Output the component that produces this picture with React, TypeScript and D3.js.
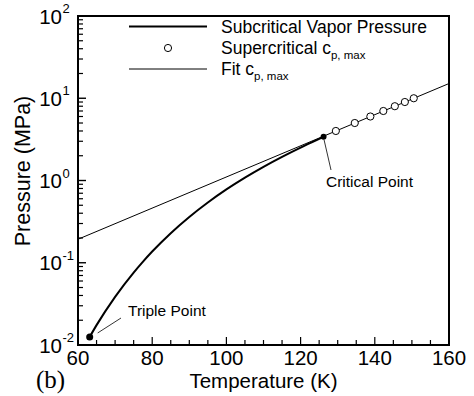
import React from 'react'
import * as d3 from 'd3'

// saturation curve, triple point -> critical point
const vaporT = [63.15, 65, 70, 75, 77.35, 80, 85, 90, 95, 100, 105, 110, 115, 120, 125, 126.19]
const vaporP = [0.01252, 0.01744, 0.03855, 0.07606, 0.1013, 0.137, 0.229, 0.3605, 0.5406, 0.7785, 1.0833, 1.4658, 1.9375, 2.511, 3.2028, 3.3958]
// supercritical cp max points
const cpT = [129.5, 134.6, 138.8, 142.3, 145.4, 148.1, 150.5]
const cpP = [4, 5, 6, 7, 8, 9, 10]
// fitted line (end points)
const fitT = [60, 160]
const fitP = [0.193, 15.1]

const xTicks = [60, 80, 100, 120, 140, 160]
const yExps = [-2, -1, 0, 1, 2]
const legendLabels = ['Subcritical Vapor Pressure', 'Supercritical c', 'Fit c']

const W = 474
const H = 396
const m = { l: 78, r: 25, t: 16, b: 51 }

export default function App() {
  const x = d3.scaleLinear().domain([60, 160]).range([m.l, W - m.r])
  const y = d3.scaleLog().domain([0.01, 100]).range([H - m.b, m.t])

  const vapor = d3.line<number>()
    .x((_, i) => x(vaporT[i]))
    .y((p) => y(p))
    .curve(d3.curveMonotoneX)(vaporP)
  const fit = d3.line<number>()
    .x((_, i) => x(fitT[i]))
    .y((p) => y(p))(fitP)

  const xMinor = d3.range(60, 161, 5)
  const yMinor: number[] = []
  for (let e = -2; e < 2; e++) for (let k = 2; k <= 9; k++) yMinor.push(k * Math.pow(10, e))

  const font = 'Arial, "Liberation Sans", Helvetica, sans-serif'
  const bottom = H - m.b
  const tp = [x(vaporT[0]), y(vaporP[0])]
  const cp = [x(vaporT[vaporT.length - 1]), y(vaporP[vaporP.length - 1])]

  return (
    <div style={{ position: 'absolute', left: 0, top: 0 }}>
      <svg width={W} height={H} style={{ display: 'block', background: '#fff' }} fontFamily={font}>
        <defs>
          <clipPath id='plot'>
            <rect x={m.l} y={m.t} width={W - m.l - m.r} height={H - m.t - m.b} />
          </clipPath>
        </defs>

        {/* data */}
        <g clipPath='url(#plot)'>
          <path d={fit ?? ''} fill='none' stroke='#000' strokeWidth={1} />
          <path d={vapor ?? ''} fill='none' stroke='#000' strokeWidth={2} />
          {cpP.map((p, i) => (
            <circle key={i} cx={x(cpT[i])} cy={y(p)} r={3.6} fill='#fff' stroke='#000' strokeWidth={1} />
          ))}
        </g>
        <circle cx={tp[0]} cy={tp[1]} r={3.5} fill='#000' />
        <circle cx={cp[0]} cy={cp[1]} r={3} fill='#000' />

        {/* annotations */}
        <line x1={tp[0] + 8} y1={tp[1] - 4} x2={121} y2={318} stroke='#000' strokeWidth={0.8} />
        <text x={128} y={316} fontSize={15.5}>Triple Point</text>
        <line x1={cp[0] + 0.5} y1={cp[1] + 3} x2={331} y2={170} stroke='#000' strokeWidth={0.8} />
        <text x={326} y={187} fontSize={15.5}>Critical Point</text>

        {/* legend */}
        <line x1={129} x2={207} y1={26.5} y2={26.5} stroke='#000' strokeWidth={2} />
        <circle cx={168} cy={48} r={3.6} fill='#fff' stroke='#000' strokeWidth={1} />
        <line x1={129} x2={207} y1={69} y2={69} stroke='#000' strokeWidth={1} />
        {legendLabels.map((t, i) => (
          <text key={t} x={221} y={32.5 + i * 21} fontSize={17.5}>
            {t}
            {i > 0 && <tspan fontSize={11.5} dy={5}>p, max</tspan>}
          </text>
        ))}

        {/* ticks */}
        {xMinor.map((v) => (
          <line key={'xm' + v} x1={x(v)} x2={x(v)} y1={bottom} y2={bottom - (v % 20 === 0 ? 8 : 5)} stroke='#000' strokeWidth={1.2} />
        ))}
        {yMinor.map((v) => (
          <line key={'ym' + v} x1={m.l} x2={m.l + 5} y1={y(v)} y2={y(v)} stroke='#000' strokeWidth={1.2} />
        ))}
        {yExps.map((e) => (
          <line key={'yM' + e} x1={m.l} x2={m.l + 8} y1={y(Math.pow(10, e))} y2={y(Math.pow(10, e))} stroke='#000' strokeWidth={1.4} />
        ))}

        {/* frame */}
        <rect x={m.l} y={m.t} width={W - m.l - m.r} height={H - m.t - m.b} fill='none' stroke='#000' strokeWidth={2} />

        {/* tick labels */}
        {xTicks.map((v) => (
          <text key={'xl' + v} x={x(v)} y={bottom + 20} fontSize={20.5} textAnchor='middle'>{v}</text>
        ))}
        {yExps.map((e) => (
          <g key={'yl' + e}>
            <text x={62} y={y(Math.pow(10, e)) + 7.5} fontSize={20.5} textAnchor='end'>10</text>
            <text x={62.5} y={y(Math.pow(10, e)) - 3} fontSize={13}>{e}</text>
          </g>
        ))}

        {/* axis titles */}
        <text x={(m.l + W - m.r) / 2} y={388} fontSize={20.5} textAnchor='middle'>Temperature (K)</text>
        <text transform={`translate(30, ${171}) rotate(-90)`} fontSize={21.5} textAnchor='middle'>Pressure (MPa)</text>
        <text x={36} y={388} fontSize={25} fontFamily='"Liberation Serif", "Times New Roman", serif'>(b)</text>
      </svg>
    </div>
  )
}
